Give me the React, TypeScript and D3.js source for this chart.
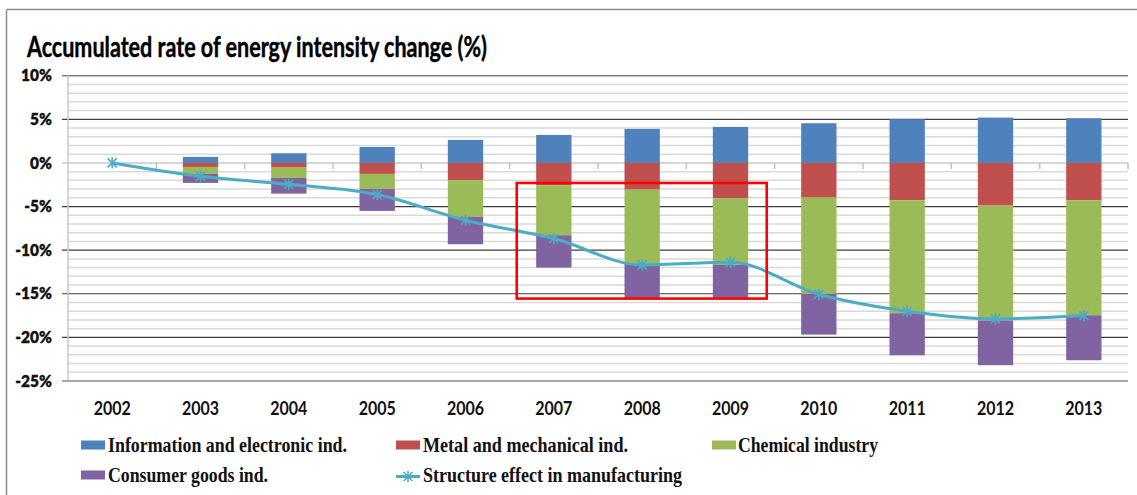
import React from 'react';
import * as d3 from 'd3';

const years = ['2002', '2003', '2004', '2005', '2006', '2007', '2008', '2009', '2010', '2011', '2012', '2013'];
const infoElec = [0, 0.69, 1.11, 1.83, 2.64, 3.21, 3.9, 4.13, 4.55, 5.01, 5.2, 5.12];
const metalMech = [0, -0.46, -0.53, -1.26, -1.99, -2.56, -3.06, -4.05, -3.97, -4.28, -4.89, -4.28];
const chemical = [0, -0.8, -1.19, -1.72, -4.2, -5.73, -8.52, -7.64, -11.05, -12.95, -13.18, -13.18];
const consumer = [0, -1.03, -1.8, -2.52, -3.13, -3.71, -3.9, -3.79, -4.66, -4.82, -5.12, -5.16];
const structure = [0, -1.53, -2.45, -3.63, -6.57, -8.67, -11.69, -11.39, -15.06, -17.0, -17.88, -17.5];
const yTicks = [10, 5, 0, -5, -10, -15, -20, -25];
const barKeys = ['info', 'metal', 'chem', 'consumer'];
const barNames = ['Information and electronic ind.', 'Metal and mechanical ind.', 'Chemical industry', 'Consumer goods ind.'];
const lineName = 'Structure effect in manufacturing';
const title = 'Accumulated rate of energy intensity change (%)';
const highlight = { from: '2007', to: '2009', top: -2.3, bottom: -15.55 };

const colors: Record<string, string> = {
  info: '#4f81bd',
  metal: '#c0504d',
  chem: '#9bbb59',
  consumer: '#8064a2',
};
const lineColor = '#4bacc6';

const W = 1137;
const H = 495;
const plot = { left: 68, right: 1128, top: 75.7, bottom: 381 };

export default function App() {
  const x = d3
    .scaleBand<string>()
    .domain(years)
    .range([plot.left, plot.right])
    .paddingInner(0.6)
    .paddingOuter(0.3);
  const y = d3.scaleLinear().domain([-25, 10]).range([plot.bottom, plot.top]);
  const step = x.step();
  const bw = x.bandwidth();

  const rows = years.map((yr, i) => ({
    year: yr,
    info: infoElec[i],
    metal: metalMech[i],
    chem: chemical[i],
    consumer: consumer[i],
  }));
  const stacked = d3.stack<any>().keys(barKeys).offset(d3.stackOffsetDiverging)(rows);

  const linePts: [number, number][] = years.map((yr, i) => [x(yr)! + bw / 2, y(structure[i])]);
  const lineGen = d3.line().curve(d3.curveMonotoneX);

  const minor = d3.range(-25, 10.001, 1).filter((v) => v % 5 !== 0);
  const r = 4.5;
  const star = `M${-r},${-r}L${r},${r}M${-r},${r}L${r},${-r}M0,${-r * 1.25}L0,${r * 1.25}`;

  const y0 = y(0);
  const boxLeft = x(highlight.from)! - 0.22 * step;
  const boxRight = x(highlight.to)! + bw + 0.21 * step;

  const legendItems = [
    { key: 'info', name: barNames[0], sx: 81, tx: 108, ty: 452, len: 239 },
    { key: 'metal', name: barNames[1], sx: 396, tx: 423, ty: 452, len: 205 },
    { key: 'chem', name: barNames[2], sx: 712, tx: 738, ty: 452, len: 140 },
    { key: 'consumer', name: barNames[3], sx: 81, tx: 108, ty: 482, len: 160 },
  ];

  return (
    <svg
      width={W}
      height={H}
      style={{ position: 'absolute', left: 0, top: 0, background: '#fff' }}
    >
      <rect x={0} y={0} width={W} height={H} fill="#fff" />
      {/* outer border */}
      <line x1={6.5} x2={W} y1={9.5} y2={9.5} stroke="#8c8c8c" strokeWidth={1.5} />
      <line x1={6.5} x2={6.5} y1={9.5} y2={H} stroke="#8c8c8c" strokeWidth={1.5} />

      {/* title */}
      <text
        transform={`translate(27,57) scale(1,1.26)`}
        fontFamily="Lato, 'Open Sans', sans-serif"
        fontWeight={700}
        fontSize={23}
        fill="#000"
        stroke="#000"
        strokeWidth={0.35}
        textLength={460}
        lengthAdjust="spacingAndGlyphs"
      >
        {title}
      </text>

      {/* minor gridlines */}
      {minor.map((v) => (
        <line key={'mn' + v} x1={plot.left} x2={plot.right} y1={y(v)} y2={y(v)} stroke="#d9d9d9" strokeWidth={1.5} />
      ))}
      {/* major gridlines */}
      {yTicks
        .filter((v) => v !== 0 && v !== -25)
        .map((v) => (
          <line key={'mj' + v} x1={plot.left - 6} x2={plot.right} y1={y(v)} y2={y(v)} stroke={v === 10 ? '#7f7f7f' : '#3f3f3f'} strokeWidth={v === 10 ? 1.5 : 1.2} />
        ))}
      {/* zero line / category axis */}
      <line x1={plot.left - 6} x2={plot.right} y1={y0} y2={y0} stroke="#c8c8c8" strokeWidth={1.5} />
      {d3.range(1, years.length + 1).map((i) => (
        <line key={'ct' + i} x1={plot.left + i * step} x2={plot.left + i * step} y1={y0} y2={y0 + 6} stroke="#c0c0c0" strokeWidth={1.5} />
      ))}
      {/* left axis */}
      <line x1={plot.left} x2={plot.left} y1={plot.top} y2={plot.bottom} stroke="#c8c8c8" strokeWidth={1.5} />
      {/* bottom line */}
      <line x1={plot.left - 6} x2={plot.right} y1={y(-25)} y2={y(-25)} stroke="#a6a6a6" strokeWidth={2} />

      {/* y labels */}
      {yTicks.map((v) => (
        <text
          key={'yl' + v}
          transform={`translate(52,${y(v) + 5.6}) scale(1,1.05)`}
          textAnchor="end"
          fontFamily="Lato, sans-serif"
          fontWeight={800}
          fontSize={15.5}
          fill="#111"
          stroke="#111"
          strokeWidth={0.25}
        >
          {v + '%'}
        </text>
      ))}

      {/* bars */}
      {stacked.map((s) => (
        <g key={s.key} fill={colors[s.key]}>
          {s.map((d, i) => {
            const top = y(Math.max(d[0], d[1]));
            const bot = y(Math.min(d[0], d[1]));
            if (bot - top <= 0) return null;
            return <rect key={i} x={x(years[i])} y={top} width={bw} height={bot - top} />;
          })}
        </g>
      ))}

      {/* line */}
      <path d={lineGen(linePts) || ''} fill="none" stroke={lineColor} strokeWidth={3} />
      {linePts.map((p, i) => (
        <path key={'mk' + i} d={star} transform={`translate(${p[0]},${p[1]})`} stroke={lineColor} strokeWidth={1.6} fill="none" />
      ))}

      {/* highlight box */}
      <rect
        x={boxLeft}
        y={y(highlight.top)}
        width={boxRight - boxLeft}
        height={y(highlight.bottom) - y(highlight.top)}
        fill="none"
        stroke="#ff0000"
        strokeWidth={2.6}
      />

      {/* x labels */}
      {years.map((yr) => (
        <text
          key={'xl' + yr}
          transform={`translate(${x(yr)! + bw / 2},415) scale(1,1.16)`}
          textAnchor="middle"
          fontFamily="Lato, sans-serif"
          fontWeight={700}
          fontSize={16}
          fill="#111"
        >
          {yr}
        </text>
      ))}

      {/* legend */}
      {legendItems.map((it) => (
        <g key={'lg' + it.key}>
          <rect x={it.sx} y={it.ty - 11.5} width={24} height={9} fill={colors[it.key]} />
          <text
            transform={`translate(${it.tx},${it.ty}) scale(1,1.18)`}
            fontFamily="'Liberation Serif', 'Times New Roman', serif"
            fontWeight={700}
            fontSize={18}
            fill="#111"
            textLength={it.len}
            lengthAdjust="spacingAndGlyphs"
          >
            {it.name}
          </text>
        </g>
      ))}
      <g>
        <line x1={396} x2={420} y1={476.5} y2={476.5} stroke={lineColor} strokeWidth={3} />
        <path d={star} transform="translate(408,476.5)" stroke={lineColor} strokeWidth={1.6} fill="none" />
        <text
          transform="translate(423,482) scale(1,1.18)"
          fontFamily="'Liberation Serif', 'Times New Roman', serif"
          fontWeight={700}
          fontSize={18}
          fill="#111"
          textLength={259}
          lengthAdjust="spacingAndGlyphs"
        >
          {lineName}
        </text>
      </g>
    </svg>
  );
}
